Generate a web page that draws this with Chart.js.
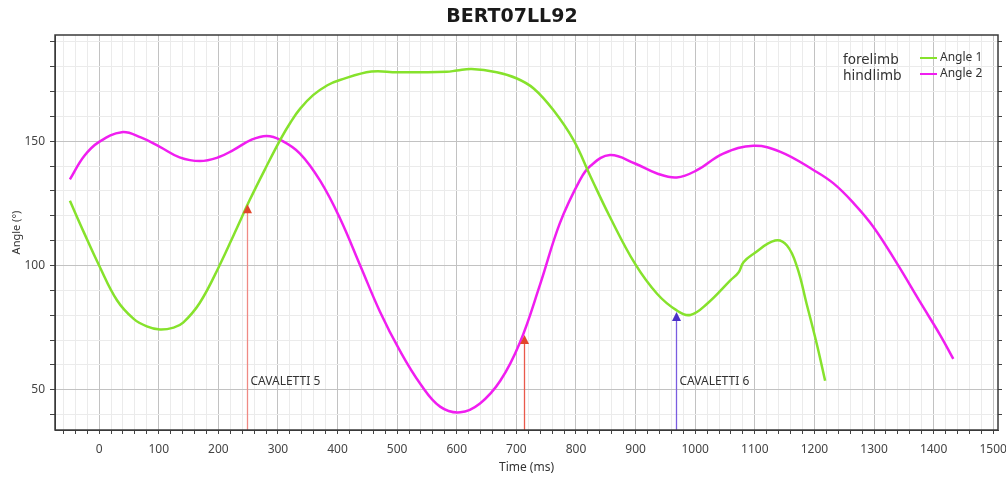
<!DOCTYPE html>
<html>
<head>
<meta charset="utf-8">
<script src="https://cdn.jsdelivr.net/npm/chart.js@4/dist/chart.umd.min.js"></script>
<style>
  html, body { margin: 0; padding: 0; background: #fff; }
  #wrap { width: 1006px; height: 477px; }
</style>
</head>
<body>
<div id="wrap"><canvas id="c" width="1006" height="477"></canvas></div>
<script>
// Joint angle traces (degrees) over time (ms)
const chartTitle = 'BERT07LL92';
const seriesNames = ['Angle 1', 'Angle 2'];
const limbNames = ['forelimb', 'hindlimb'];

const angle1Time = [-49, -25, 0, 30, 58, 80, 102, 125, 141, 169, 201, 231, 253, 280, 305, 321, 337, 359, 383, 404, 457, 500, 583, 600, 625, 667, 700, 729, 762, 796, 824, 857, 899, 936, 969, 992, 1020, 1059, 1073, 1081, 1098, 1134, 1154, 1171, 1187, 1204, 1218];
const angle1Deg  = [126, 113, 100, 86, 78.5, 75.5, 74.2, 75, 77, 85, 99.5, 115, 126.5, 139.5, 151, 157.5, 163, 168.5, 172.5, 174.6, 178, 177.7, 177.9, 178.4, 179, 177.7, 175.3, 171.2, 162.5, 150.4, 136, 119.5, 100.7, 88.6, 81.9, 80.1, 84.6, 94, 97.3, 101.3, 104.7, 110, 108, 99.3, 84.5, 68.4, 53.6];

const angle2Time = [-49, -25, 0, 38, 70, 102, 135, 169, 200, 225, 255, 281, 305, 337, 371, 404, 438, 471, 505, 539, 572, 606, 639, 673, 706, 740, 773, 807, 824, 857, 899, 936, 969, 1003, 1047, 1098, 1143, 1199, 1232, 1266, 1299, 1338, 1378, 1411, 1433];
const angle2Deg  = [134.6, 144, 149.7, 153.6, 151.5, 147.7, 143.5, 142, 143.5, 146.4, 150.5, 152.1, 150.4, 145, 134, 119, 100, 81.5, 65.5, 52.3, 43.2, 40.9, 44.5, 53.6, 69, 92.5, 117, 134.5, 140, 144.4, 141, 137, 135.4, 138.3, 145, 148.1, 145.7, 138.3, 133, 125, 115.5, 101, 85, 72, 62.4];

// Event markers (cavaletti crossings)
const markerTime  = [248, 713, 968];
const markerAngle = [124.6, 72, 81.3];
const markerLabel = ['CAVALETTI 5', '', 'CAVALETTI 6'];

// Axis ranges and tick spacing
const timeRange  = [-74, 1508];
const angleRange = [33.8, 192.7];
const timeStep = 20, timeLabelStep = 100;
const angleStep = 10, angleLabelStep = 50;

const seriesColors = ['#86e22c', '#f01ef0'];
const markerStyle = [
  { line: '#f08a84', head: '#e2462c' },
  { line: '#ea5a4c', head: '#e2462c' },
  { line: '#7a5ce0', head: '#4a30c8' }
];

const toPoints = (xs, ys) => xs.map((x, i) => ({ x: x, y: ys[i] }));
const isMultiple = (v, m) => Math.abs(Math.round(v) % m) === 0;

const decor = {
  id: 'decor',
  beforeDraw(chart) {
    const ctx = chart.ctx;
    ctx.save();
    ctx.fillStyle = '#fff';
    ctx.fillRect(0, 0, chart.width, chart.height);
    ctx.restore();
  },
  afterDatasetsDraw(chart) {
    const ctx = chart.ctx;
    const a = chart.chartArea;
    const xs = chart.scales.x, ys = chart.scales.y;
    ctx.save();

    // event arrows
    markerTime.forEach((t, i) => {
      const px = Math.round(xs.getPixelForValue(t)) + 0.5;
      const tip = ys.getPixelForValue(markerAngle[i]);
      const st = markerStyle[i];
      ctx.strokeStyle = st.line;
      ctx.lineWidth = 1.3;
      ctx.beginPath();
      ctx.moveTo(px, a.bottom);
      ctx.lineTo(px, tip + 6);
      ctx.stroke();
      ctx.fillStyle = st.head;
      ctx.beginPath();
      ctx.moveTo(px, tip);
      ctx.lineTo(px - 4.5, tip + 9);
      ctx.lineTo(px + 4.5, tip + 9);
      ctx.closePath();
      ctx.fill();
      if (markerLabel[i]) {
        ctx.fillStyle = '#333';
        ctx.font = '12px "Noto Sans", sans-serif';
        ctx.textAlign = 'left';
        ctx.textBaseline = 'middle';
        ctx.fillText(markerLabel[i], px + 3, a.bottom - 48);
      }
    });

    // frame
    ctx.strokeStyle = '#3a3a3a';
    ctx.lineWidth = 1.5;
    ctx.strokeRect(a.left, a.top, a.right - a.left, a.bottom - a.top);

    // legend
    chart.data.datasets.forEach((ds, i) => {
      const y = a.top + 23 + i * 16;
      ctx.fillStyle = '#333';
      ctx.font = '13.5px "DejaVu Sans", sans-serif';
      ctx.textAlign = 'left';
      ctx.textBaseline = 'middle';
      ctx.fillText(limbNames[i], a.right - 155, y + 2);
      ctx.strokeStyle = ds.borderColor;
      ctx.lineWidth = 2;
      ctx.beginPath();
      ctx.moveTo(a.right - 78, y);
      ctx.lineTo(a.right - 61, y);
      ctx.stroke();
      ctx.font = '12px "Noto Sans", sans-serif';
      ctx.fillText(ds.label, a.right - 58, y);
    });

    // title
    ctx.fillStyle = '#1a1a1a';
    ctx.font = 'bold 19px "DejaVu Sans", sans-serif';
    ctx.textAlign = 'center';
    ctx.textBaseline = 'middle';
    ctx.fillText(chartTitle, 512, 17);
    ctx.restore();
  }
};

const tickFont = { family: '"Noto Sans", sans-serif', size: 12 };

new Chart(document.getElementById('c'), {
  type: 'scatter',
  data: {
    datasets: [
      {
        label: seriesNames[0],
        data: toPoints(angle1Time, angle1Deg),
        borderColor: seriesColors[0],
        backgroundColor: seriesColors[0],
        showLine: true, pointRadius: 0, borderWidth: 2.5,
        tension: 0.4
      },
      {
        label: seriesNames[1],
        data: toPoints(angle2Time, angle2Deg),
        borderColor: seriesColors[1],
        backgroundColor: seriesColors[1],
        showLine: true, pointRadius: 0, borderWidth: 2.5,
        tension: 0.4
      }
    ]
  },
  options: {
    responsive: false,
    animation: false,
    devicePixelRatio: 1,
    layout: { padding: { top: 35, left: 0, right: 0, bottom: 0 } },
    plugins: { legend: { display: false }, tooltip: { enabled: false }, title: { display: false } },
    scales: {
      x: {
        type: 'linear',
        min: timeRange[0], max: timeRange[1],
        ticks: {
          stepSize: timeStep, includeBounds: false, autoSkip: false, maxRotation: 0,
          color: '#444', font: tickFont, padding: 8,
          callback: v => isMultiple(v, timeLabelStep) ? Math.round(v) : ''
        },
        grid: {
          color: c => (c.tick && isMultiple(c.tick.value, timeLabelStep)) ? '#c2c2c2' : '#ebebeb',
          tickColor: '#444', tickLength: 4, lineWidth: 1
        },
        border: { display: true, color: '#3a3a3a' },
        title: { display: true, text: 'Time (ms)', color: '#333', font: { family: '"Noto Sans", sans-serif', size: 12 }, padding: { top: 0, bottom: 2 } },
        afterFit: s => { s.height = 47; s.paddingLeft = 0; s.paddingRight = 0; }
      },
      y: {
        type: 'linear',
        min: angleRange[0], max: angleRange[1],
        ticks: {
          stepSize: angleStep, includeBounds: false, autoSkip: false,
          color: '#444', font: tickFont, padding: 5,
          callback: v => isMultiple(v, angleLabelStep) ? Math.round(v) : ''
        },
        grid: {
          color: c => (c.tick && isMultiple(c.tick.value, angleLabelStep)) ? '#c2c2c2' : '#ebebeb',
          tickColor: '#444', tickLength: 5, lineWidth: 1
        },
        border: { display: true, color: '#3a3a3a' },
        title: { display: true, text: 'Angle (°)', color: '#333', font: { family: '"Noto Sans", sans-serif', size: 11 }, padding: { top: 10, bottom: 0 } },
        afterFit: s => { s.width = 55; s.paddingTop = 0; s.paddingBottom = 0; }
      },
      y2: {
        type: 'linear', position: 'right',
        min: angleRange[0], max: angleRange[1],
        ticks: { stepSize: angleStep, includeBounds: false, autoSkip: false, padding: 0, callback: () => '' },
        grid: { drawOnChartArea: false, tickColor: '#444', tickLength: 4 },
        border: { display: false },
        afterFit: s => { s.width = 8; s.paddingTop = 0; s.paddingBottom = 0; }
      }
    }
  },
  plugins: [decor]
});
</script>
</body>
</html>
